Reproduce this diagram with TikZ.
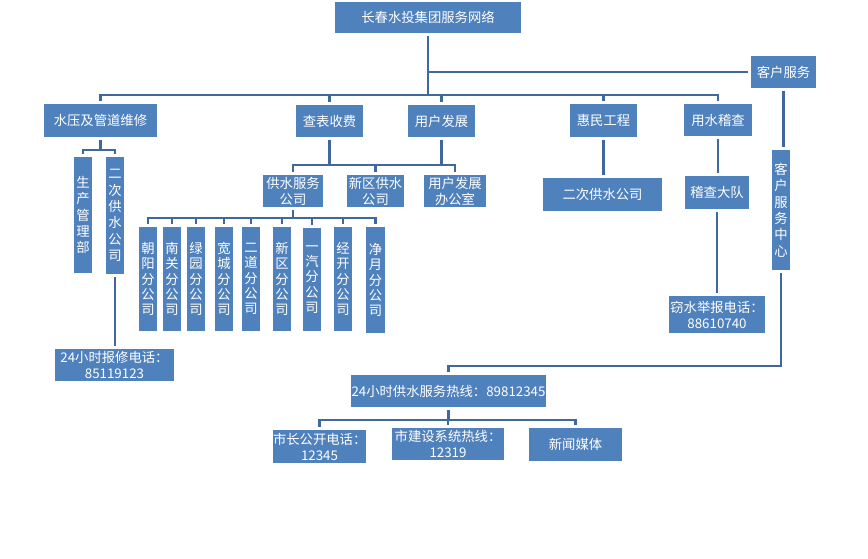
\documentclass[tikz,border=0pt]{standalone}
\usepackage{fontspec}
\newfontfamily\cjk{Noto Sans CJK SC}
\definecolor{boxblue}{RGB}{79,129,189}
\definecolor{lnblue}{RGB}{62,104,158}
\begin{document}
\begin{tikzpicture}[x=0.75pt,y=-0.75pt,
  bx/.style={fill=boxblue,draw=none,text=white,inner sep=0pt,outer sep=2.6pt,align=center,
    font=\cjk\fontsize{10}{12}\selectfont},
  sz/.style 2 args={minimum width=#1*0.75pt,minimum height=#2*0.75pt,text width=#1*0.75pt},
  vt/.style={font=\cjk\fontsize{10}{11.4}\selectfont},
  vt2/.style={font=\cjk\fontsize{10}{12.3}\selectfont},
  ln/.style={draw=lnblue,line width=2pt}]
\useasboundingbox[fill=white] (0,0) rectangle (868,558);
% nodes
\node[bx,sz={186}{31}] (main) at (428,17.5) {长春水投集团服务网络};
\node[bx,sz={65}{32}] (kf) at (783.5,72) {客户服务};
\node[bx,sz={113}{33}] (sy) at (100.5,120.5) {水压及管道维修};
\node[bx,sz={67}{32}] (cb) at (329.5,121) {查表收费};
\node[bx,sz={67}{32}] (yh) at (441.5,121) {用户发展};
\node[bx,sz={67}{33}] (hm) at (603.5,120.5) {惠民工程};
\node[bx,sz={68}{32}] (ys) at (718,120) {用水稽查};
\node[bx,vt2,sz={18}{120}] (kfzx) at (781,210) {客\\户\\服\\务\\中\\心};
\node[bx,vt2,sz={18}{116}] (sc) at (83,215) {生\\产\\管\\理\\部};
\node[bx,vt2,sz={18}{117}] (ec) at (115,215.5) {二\\次\\供\\水\\公\\司};
\node[bx,sz={119}{32}] (bx) at (114.5,365) {24小时报修电话：\\85119123};
\node[bx,sz={60}{32}] (gf) at (293,191) {供水服务\\公司};
\node[bx,sz={57}{32}] (xq) at (375.5,191) {新区供水\\公司};
\node[bx,sz={62}{32}] (bg) at (455,191) {用户发展\\办公室};
\node[bx,vt,sz={18}{104}] (b1) at (148,279) {朝\\阳\\分\\公\\司};
\node[bx,vt,sz={18}{104}] (b2) at (172,279) {南\\关\\分\\公\\司};
\node[bx,vt,sz={18}{104}] (b3) at (196,279) {绿\\园\\分\\公\\司};
\node[bx,vt,sz={18}{104}] (b4) at (224,279) {宽\\城\\分\\公\\司};
\node[bx,vt,sz={18}{104}] (b5) at (251,279) {二\\道\\分\\公\\司};
\node[bx,vt,sz={18}{104}] (b6) at (282,279) {新\\区\\分\\公\\司};
\node[bx,vt,sz={18}{103}] (b7) at (312,279.5) {一\\汽\\分\\公\\司};
\node[bx,vt,sz={18}{104}] (b8) at (343,279) {经\\开\\分\\公\\司};
\node[bx,vt,sz={19}{106}] (b9) at (375.5,280) {净\\月\\分\\公\\司};
\node[bx,sz={119}{33}] (ec2) at (602.5,194.5) {二次供水公司};
\node[bx,sz={64}{33}] (jc) at (717,192.5) {稽查大队};
\node[bx,sz={96}{37}] (qs) at (717,314.5) {窃水举报电话：\\88610740};
\node[bx,sz={195}{32}] (rx) at (448.5,391) {24小时供水服务热线：89812345};
\node[bx,sz={93}{33}] (szc) at (319.5,446.5) {市长公开电话：\\12345};
\node[bx,sz={112}{32}] (js) at (448,444) {市建设系统热线：\\12319};
\node[bx,sz={93}{33}] (xw) at (575.5,444.5) {新闻媒体};
% level coordinates
\coordinate (busY) at (0,95);
\coordinate (lY) at (0,150);
\coordinate (mY) at (0,165);
\coordinate (fY) at (0,218);
\coordinate (hY) at (0,366);
\coordinate (rY) at (0,420);
% connectors
\draw[ln] (main.south) -- (main.south |- busY);
\draw[ln] (main.south |- kf.west) -- (kf.west);
\draw[ln] (sy.north) -- (sy.north |- busY) -- (ys.north |- busY) -- (ys.north);
\foreach \n in {cb,yh,hm} \draw[ln] (\n.north) -- (\n.north |- busY);
\draw[ln] (kf.south) -- (kf.south |- kfzx.north);
\draw[ln] (kfzx.south) -- (kfzx.south |- hY) -| (rx.north);
\draw[ln] (sy.south) -- (sy.south |- lY);
\draw[ln] (sc.north) -- (sc.north |- lY) -- (ec.north |- lY) -- (ec.north);
\draw[ln] (ec.south) -- (ec.south |- bx.north);
\draw[ln] (cb.south) -- (cb.south |- mY);
\draw[ln] (yh.south) -- (yh.south |- mY);
\draw[ln] (gf.north) -- (gf.north |- mY) -- (bg.north |- mY) -- (bg.north);
\draw[ln] (xq.north) -- (xq.north |- mY);
\draw[ln] (gf.south) -- (gf.south |- fY);
\draw[ln] (b1.north) -- (b1.north |- fY) -- (b9.north |- fY) -- (b9.north);
\foreach \n in {b2,b3,b4,b5,b6,b7,b8} \draw[ln] (\n.north) -- (\n.north |- fY);
\draw[ln] (hm.south) -- (hm.south |- ec2.north);
\draw[ln] (ys.south) -- (ys.south |- jc.north);
\draw[ln] (jc.south) -- (jc.south |- qs.north);
\draw[ln] (rx.south) -- (rx.south |- rY);
\draw[ln] (szc.north) -- (szc.north |- rY) -- (xw.north |- rY) -- (xw.north);
\draw[ln] (js.north) -- (js.north |- rY);
\end{tikzpicture}
\end{document}
